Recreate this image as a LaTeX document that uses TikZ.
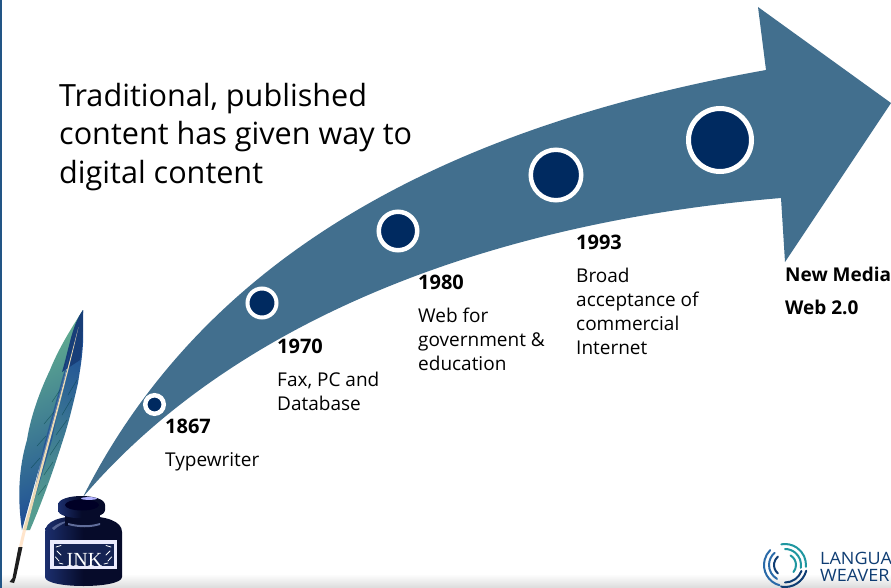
\documentclass[tikz,border=0pt]{standalone}
\usepackage{fontspec}
\setmainfont{Open Sans}
\newfontfamily\inkfont{Liberation Serif}
\newfontfamily\logofont[FakeStretch=1.06]{Open Sans}
\usetikzlibrary{shadings}
\definecolor{arrowblue}{HTML}{426F8E}
\definecolor{dotblue}{HTML}{002A60}
\definecolor{inkdark}{HTML}{060B2A}
\definecolor{inkmid}{HTML}{1C2F6E}
\definecolor{logoblue}{HTML}{0F3D73}
\definecolor{logoteal}{HTML}{1F97A0}
\definecolor{logomid}{HTML}{2A6AA8}
\definecolor{featherblue}{HTML}{1E4E96}
\definecolor{feathergreen}{HTML}{63B08F}
\definecolor{quillcol}{HTML}{EBD9B4}
\tikzset{
 x=1pt,y=-1pt,
 dot/.style={circle,draw=white,fill=dotblue,inner sep=0pt},
 yearlabel/.style={anchor=north west,font=\fontsize{20}{24}\selectfont\bfseries,inner sep=0pt},
 newlabel/.style={anchor=north west,font=\fontsize{19}{24}\selectfont\bfseries,inner sep=0pt},
 desclabel/.style={anchor=north west,align=left,font=\fontsize{19}{24}\selectfont,inner sep=0pt},
 heading/.style={anchor=north west,align=left,font=\fontsize{30.6}{38.5}\selectfont,inner sep=0pt},
 logoarc/.style={line width=2pt,line cap=round},
 logotext/.style={anchor=west,inner sep=0pt,text=logoblue,font=\logofont\fontsize{17}{17}\selectfont},
}
\begin{document}
\begin{tikzpicture}
\useasboundingbox (0,0) rectangle (891,588);
\fill[white] (0,0) rectangle (891,588);
\shade[top color=white,bottom color=black!14] (0,574) rectangle (891,588);
\fill[logomid!80!black] (0,0) rectangle (2,588);
% arrow
\fill[arrowblue] (83,497) .. controls (200,265) and (430,130) .. (766,70)
  -- (758,7) -- (891,103) -- (785,262) -- (781,198)
  .. controls (480,223) and (230,325) .. (83,497) -- cycle;
% dots
\node[dot,minimum size=18.5pt,line width=4.5pt] (d1) at (154.5,404.5) {};
\node[dot,minimum size=29pt,line width=4pt] (d2) at (262,303) {};
\node[dot,minimum size=38.5pt,line width=4.5pt] (d3) at (398,231) {};
\node[dot,minimum size=50.5pt,line width=4.5pt] (d4) at (556,175) {};
\node[dot,minimum size=63pt,line width=5pt] (d5) at (720,140) {};
% texts
\node[heading] (title) at (59,83) {Traditional, published\\content has given way to\\digital content};
\node[yearlabel] (y1) at (165,419) {1867};
\node[desclabel] (t1) at (165,452) {Typewriter};
\node[yearlabel] (y2) at (277,339) {1970};
\node[desclabel] (t2) at (277,372) {Fax, PC and\\Database};
\node[yearlabel] (y3) at (418,275) {1980};
\node[desclabel] (t3) at (418,308) {Web for\\government \&\\education};
\node[yearlabel] (y4) at (576,235) {1993};
\node[desclabel] (t4) at (576,268) {Broad\\acceptance of\\commercial\\Internet};
\node[newlabel] (y5) at (785,267) {New Media};
\node[newlabel] (y6) at (785,300) {Web 2.0};
% feather
\shade[left color=feathergreen,right color=featherblue,shading angle=25]
 (83,310) .. controls (70,330) and (58,350) .. (50,370) .. controls (38,395) and (30,420) .. (27,440)
 .. controls (21,460) and (16,490) .. (22,530) -- (78,327) -- cycle;
\shade[left color=featherblue,right color=feathergreen!80!featherblue,shading angle=-25]
 (83,310) -- (83,343) .. controls (82,360) and (80,370) .. (78,383) .. controls (73,405) and (68,425) .. (63,440)
 .. controls (56,462) and (45,495) .. (30,530) -- (24,530) -- (78,327) -- cycle;
\fill[featherblue!80!black] (83,310) .. controls (72,325) and (70,345) .. (62,372) -- (80,360) .. controls (83,345) and (83,325) .. (83,310) -- cycle;
\fill[featherblue,opacity=.7] (70,350) -- (52,440) -- (27,525) -- (44,445) -- cycle;
\draw[black!50!teal,line width=.5pt,opacity=.55]
 (68,395)--(77,380) (62,415)--(72,398) (56,435)--(67,420) (50,455)--(60,440) (44,475)--(53,462) (38,495)--(46,485)
 (60,390)--(52,402) (54,412)--(44,424) (46,436)--(37,446) (40,458)--(31,468);
\fill[quillcol] (78.5,327) .. controls (68,375) and (42,470) .. (26,531) -- (23,530) .. controls (40,470) and (66,375) .. (78.5,327) -- cycle;
\draw[white!80!orange,line width=3pt] (24.5,530) -- (20.5,547);
\fill[black!88] (22.5,547) -- (18.5,547) -- (12.5,578) -- (9.5,582) -- (14,583) -- (16,577) -- cycle;
% ink bottle
\shade[left color=inkmid,right color=inkdark,middle color=inkdark]
 (45,532) .. controls (45,521) and (60,516) .. (83,516) .. controls (106,516) and (122,521) .. (122,532)
 -- (122,577) .. controls (122,589) and (45,589) .. (45,577) -- cycle;
\fill[inkmid!75!white] (52,528) .. controls (58,523) and (64,521) .. (72,520) .. controls (64,523) and (58,526) .. (54,530) -- cycle;
\fill[inkdark] (65,510) rectangle (100,526);
\fill[inkmid!70!white] (68,525) .. controls (80,528) and (90,528) .. (100,525) -- (100,523) .. controls (90,526) and (80,526) .. (68,523) -- cycle;
\shade[left color=inkmid,right color=inkdark,middle color=inkdark]
 (58,505) .. controls (58,493) and (105,493) .. (105,505) -- (105,510) .. controls (105,521) and (58,521) .. (58,510) -- cycle;
\fill[black!85!blue] (82,505) ellipse [x radius=17,y radius=5.5];
\fill[white!70!blue] (89,498.5) ellipse [x radius=8,y radius=1.4];
\fill[black!8!blue!8!white] (50,540) rectangle (117,569);
\fill[inkmid!75!black] (53.5,543.5) rectangle (113.5,566);
\draw[white,line width=.8pt,line cap=round] (56,547) -- (61,545.5) (57,551) -- (61,555) (55.5,557) -- (59,561) (59,563) -- (63,564) (111,547) -- (106,545.5) (110,551) -- (106,555) (111.5,557) -- (108,561) (108,563) -- (104,564);
\node[font=\inkfont\fontsize{20}{20}\selectfont,text=white,inner sep=0pt] (ink) at (84.5,559.5) {INK};
% logo
\begin{scope}[shift={(785,565)}]
 \draw[logomid,logoarc] (105:21) arc[start angle=105,end angle=225,radius=21];
 \draw[logomid,logoarc] (120:16) arc[start angle=120,end angle=230,radius=16];
 \draw[logoblue,logoarc] (100:22) arc[start angle=100,end angle=15,radius=22];
 \draw[logoblue,logoarc] (90:17.5) arc[start angle=90,end angle=20,radius=17.5];
 \draw[logoteal,logoarc] (5:21) arc[start angle=5,end angle=-100,radius=21];
 \draw[logoteal,logoarc] (10:16) arc[start angle=10,end angle=-90,radius=16];
 \draw[logoblue,logoarc] (130:11) arc[start angle=130,end angle=230,radius=11];
 \draw[logoteal,logoarc] (-60:11) arc[start angle=-60,end angle=40,radius=11];
\end{scope}
\node[logotext] (logo1) at (820,558.5) {LANGUA};
\node[logotext] (logo2) at (820,575.5) {WEAVER};
\end{tikzpicture}
\end{document}
